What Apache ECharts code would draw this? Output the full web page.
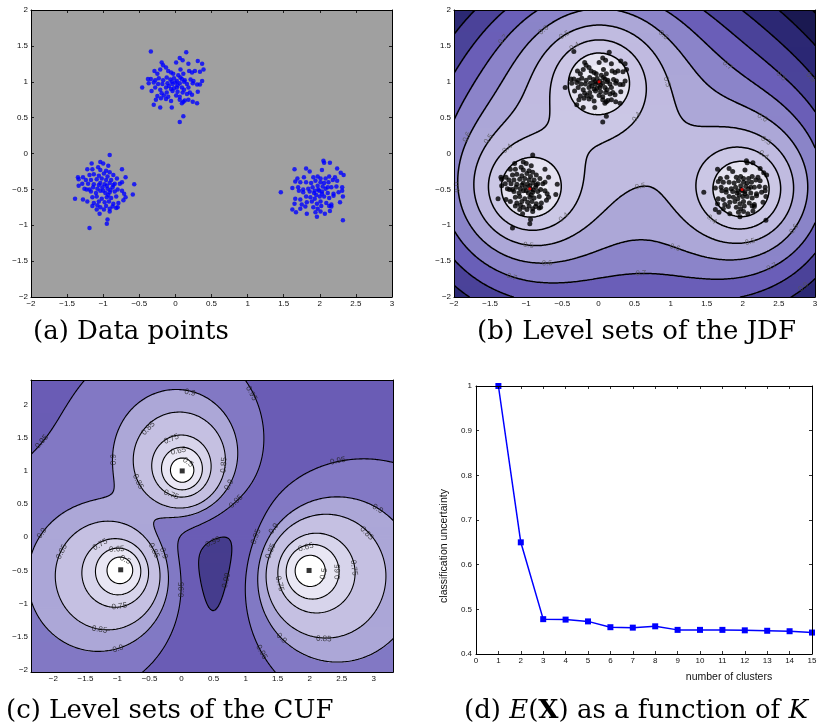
<!DOCTYPE html>
<html><head><meta charset="utf-8">
<script src="https://cdn.jsdelivr.net/npm/echarts@6/dist/echarts.min.js"></script>
<style>html,body{margin:0;padding:0;background:#fff}#c{width:824px;height:727px}</style>
</head><body><div id="c"></div>
<script>
// ---------------- data ----------------
const pointsTop = [[-0.34,1.42],[0.15,1.41],[0.06,1.33],[0.10,1.30],[0.01,1.27],[0.31,1.29],[0.37,1.25],[-0.19,1.27],[-0.17,1.23],[-0.13,1.20],[0.18,1.25],[0.39,1.17],[-0.29,1.15],[-0.21,1.17],[-0.10,1.15],[0.07,1.17],[0.19,1.15],[0.27,1.15],[0.34,1.14],[-0.25,1.11],[-0.06,1.13],[-0.03,1.11],[0.04,1.09],[0.11,1.11],[0.23,1.13],[-0.38,1.04],[-0.34,1.04],[-0.28,1.02],[-0.23,1.05],[-0.17,1.02],[-0.12,1.06],[-0.07,1.03],[-0.02,1.05],[0.02,1.01],[0.09,1.04],[0.13,1.02],[0.21,1.03],[0.25,1.01],[0.37,1.01],[-0.37,0.98],[-0.30,0.99],[-0.24,0.97],[-0.18,0.97],[-0.11,0.98],[-0.04,0.97],[0.00,0.99],[0.06,0.98],[0.16,0.97],[0.24,0.98],[0.30,0.96],[0.34,0.96],[-0.46,0.92],[-0.28,0.92],[-0.21,0.89],[-0.13,0.92],[-0.06,0.90],[0.02,0.92],[0.09,0.92],[0.12,0.89],[0.18,0.92],[-0.33,0.87],[-0.19,0.84],[-0.12,0.85],[-0.04,0.87],[0.03,0.86],[0.10,0.85],[0.20,0.85],[0.31,0.86],[-0.25,0.80],[-0.16,0.81],[-0.10,0.79],[0.01,0.81],[0.06,0.79],[0.16,0.83],[0.23,0.82],[-0.27,0.75],[-0.20,0.77],[-0.13,0.76],[-0.06,0.73],[0.06,0.75],[0.13,0.74],[0.18,0.75],[0.24,0.72],[0.11,0.72],[0.30,0.70],[0.09,0.70],[-0.30,0.68],[-0.21,0.64],[-0.05,0.64],[0.11,0.52],[0.06,0.44],[-0.05,1.00],[0.03,0.95],[-0.09,0.94],[0.07,1.06],[-0.02,0.91],[0.12,1.00]];
const pointsLeft = [[-0.91,-0.02],[-1.04,-0.12],[-1.16,-0.14],[-1.00,-0.14],[-0.93,-0.17],[-1.07,-0.19],[-1.22,-0.22],[-1.15,-0.22],[-1.04,-0.23],[-0.96,-0.24],[-0.91,-0.26],[-0.74,-0.22],[-1.35,-0.33],[-1.28,-0.33],[-1.19,-0.30],[-1.13,-0.29],[-1.06,-0.31],[-0.99,-0.28],[-0.94,-0.32],[-0.86,-0.30],[-1.34,-0.36],[-1.24,-0.37],[-1.17,-0.37],[-1.09,-0.36],[-1.02,-0.35],[-0.96,-0.37],[-0.89,-0.37],[-0.81,-0.35],[-0.69,-0.33],[-1.29,-0.42],[-1.21,-0.42],[-1.13,-0.43],[-1.04,-0.41],[-0.98,-0.43],[-0.91,-0.41],[-0.84,-0.42],[-0.77,-0.42],[-0.74,-0.40],[-0.57,-0.43],[-1.34,-0.45],[-1.26,-0.49],[-1.19,-0.50],[-1.14,-0.47],[-1.08,-0.49],[-1.01,-0.47],[-0.94,-0.49],[-0.87,-0.47],[-0.80,-0.50],[-0.74,-0.52],[-1.23,-0.50],[-1.17,-0.53],[-1.10,-0.55],[-1.04,-0.52],[-0.97,-0.55],[-0.91,-0.54],[-0.84,-0.53],[-0.71,-0.56],[-0.59,-0.57],[-1.39,-0.63],[-1.28,-0.64],[-1.15,-0.61],[-1.09,-0.60],[-1.02,-0.63],[-0.95,-0.61],[-0.89,-0.62],[-0.82,-0.60],[-0.69,-0.61],[-1.22,-0.67],[-1.13,-0.69],[-1.06,-0.67],[-0.98,-0.68],[-0.92,-0.67],[-0.86,-0.70],[-0.79,-0.69],[-0.72,-0.65],[-1.15,-0.73],[-1.08,-0.72],[-1.04,-0.75],[-0.96,-0.73],[-0.87,-0.74],[-0.80,-0.75],[-1.09,-0.78],[-0.99,-0.78],[-0.91,-0.77],[-0.82,-0.76],[-1.05,-0.84],[-0.91,-0.81],[-0.94,-0.92],[-0.95,-0.98],[-1.19,-1.04],[-0.95,-0.45],[-0.90,-0.51],[-1.00,-0.52],[-0.93,-0.58],[-1.06,-0.44],[-0.86,-0.44]];
const pointsRight = [[2.05,-0.10],[2.14,-0.13],[2.06,-0.13],[1.65,-0.22],[1.81,-0.21],[1.86,-0.25],[2.03,-0.23],[2.24,-0.21],[2.29,-0.27],[2.33,-0.30],[1.69,-0.35],[1.78,-0.33],[1.91,-0.33],[1.97,-0.32],[2.01,-0.35],[2.08,-0.35],[2.13,-0.32],[2.21,-0.33],[1.66,-0.39],[1.73,-0.40],[1.81,-0.40],[1.88,-0.41],[1.94,-0.38],[2.01,-0.40],[2.06,-0.41],[2.12,-0.40],[2.18,-0.37],[2.24,-0.38],[1.62,-0.48],[1.70,-0.47],[1.77,-0.50],[1.84,-0.49],[1.90,-0.47],[1.97,-0.45],[2.04,-0.46],[2.11,-0.47],[2.16,-0.47],[2.23,-0.46],[2.31,-0.47],[1.46,-0.54],[1.71,-0.52],[1.77,-0.54],[1.86,-0.53],[1.92,-0.55],[1.99,-0.52],[2.03,-0.53],[2.11,-0.55],[2.19,-0.56],[2.26,-0.54],[2.31,-0.52],[1.66,-0.63],[1.73,-0.64],[1.81,-0.60],[1.87,-0.61],[1.93,-0.63],[2.00,-0.60],[2.06,-0.60],[2.13,-0.62],[2.19,-0.59],[2.32,-0.60],[1.65,-0.70],[1.75,-0.71],[1.82,-0.68],[1.89,-0.67],[1.96,-0.70],[2.01,-0.67],[2.09,-0.69],[2.16,-0.71],[2.28,-0.68],[1.73,-0.77],[1.80,-0.74],[1.91,-0.75],[1.97,-0.77],[2.02,-0.73],[2.13,-0.73],[2.16,-0.74],[1.62,-0.78],[1.67,-0.82],[1.82,-0.84],[1.94,-0.82],[2.01,-0.81],[2.07,-0.84],[2.14,-0.80],[1.96,-0.88],[2.32,-0.93],[1.98,-0.50],[2.03,-0.56],[1.93,-0.52],[2.08,-0.49],[1.95,-0.58]];
const centers = [[0.01,1.0],[-0.95,-0.49],[1.99,-0.5]];
const jdfLevels = [0.1,0.2,0.3,0.4,0.5,0.6,0.7,0.8,0.9,1.0,1.1];
const jdfLineLevels = [0.3,0.4,0.5,0.6,0.7,0.8,0.9,1.0,1.1];
const cufLevels = [0.5,0.65,0.75,0.85,0.9,0.95,0.99];
const clusterCounts = [1,2,3,4,5,6,7,8,9,10,11,12,13,14,15];
const uncertainty = [1.0,0.65,0.478,0.477,0.473,0.46,0.459,0.462,0.454,0.454,0.454,0.453,0.452,0.451,0.448];
const cTicksX = [-2,-1.5,-1,-0.5,0,0.5,1,1.5,2,2.5,3];
const cTicksY = [-2,-1.5,-1,-0.5,0,0.5,1,1.5,2];
const jdfLabels = [[-1.32,1.59,'0.7'],[-0.76,1.72,'0.6'],[-0.47,1.65,'0.5'],[-0.33,1.49,'0.4'],[0.90,1.65,'0.6'],[1.79,1.23,'0.7'],[2.53,1.08,'0.8'],[2.94,1.06,'0.9'],[0.95,1.0,'0.5'],[0.53,0.51,'0.4'],[2.27,0.50,'0.6'],[2.32,0.18,'0.5'],[2.29,-0.02,'0.4'],[0.58,-0.46,'0.5'],[1.57,-0.92,'0.4'],[2.10,-1.23,'0.5'],[1.06,-1.31,'0.6'],[2.40,-1.58,'0.7'],[2.71,-1.05,'0.6'],[2.84,-1.86,'0.9'],[0.59,-1.67,'0.7'],[-0.71,-1.53,'0.6'],[-0.97,-1.28,'0.5'],[-1.20,-1.72,'0.7'],[-0.48,-0.89,'0.4'],[-1.82,0.23,'0.6'],[-1.52,0.2,'0.5'],[-1.26,0.07,'0.4'],[-1.97,-0.47,'0.6']];
const cufLabels = [[0.13,2.18,'0.9'],[1.09,2.17,'0.95'],[-2.18,1.44,'0.95'],[-1.06,1.17,'0.9'],[-0.52,1.64,'0.85'],[-0.16,1.48,'0.75'],[-0.05,1.30,'0.65'],[0.10,1.13,'0.5'],[0.66,1.09,'0.85'],[0.74,0.79,'0.9'],[0.85,0.54,'0.95'],[-0.68,0.84,'0.85'],[-0.16,0.64,'0.75'],[2.44,1.15,'0.95'],[3.06,0.43,'0.9'],[2.89,0.06,'0.85'],[1.44,0.13,'0.9'],[1.16,0.01,'0.95'],[1.39,-0.21,'0.85'],[1.94,-0.15,'0.65'],[2.22,-0.55,'0.5'],[2.44,-0.52,'0.65'],[2.69,-0.46,'0.75'],[1.53,-0.70,'0.75'],[1.56,-1.52,'0.9'],[2.22,-1.53,'0.85'],[1.25,-1.73,'0.95'],[-2.18,0.06,'0.9'],[-1.87,-0.22,'0.85'],[-1.27,-0.11,'0.75'],[-1.01,-0.18,'0.65'],[-0.88,-0.34,'0.5'],[-0.43,-0.2,'0.85'],[-0.28,-0.24,'0.9'],[0,-0.79,'0.95'],[-0.97,-1.04,'0.75'],[-1.28,-1.39,'0.85'],[-0.99,-1.68,'0.9'],[0.49,-0.07,'0.99'],[0.70,-0.65,'0.99']];

// ---------------- styles ----------------
const jdfColors = ['#fafafd','#efeef7','#e4e2f0','#cbc7e5','#c0bbe0','#aca7d7','#8b84c9','#6a5fb8','#4b4399','#2c2874','#1b1952','#121236'];
const cufColors = ['#ffffff','#e9e7f4','#d7d4eb','#c5c0e2','#aca7d7','#8279c4','#6a5db5','#463d8d'];
const extB = [-2,3,-2,2];
const extC = [-2.35,3.30,-2.03,2.37];

// ---------------- fields ----------------
function jdf(x,y){let s=0;for(const c of centers){const d=Math.max(Math.hypot(x-c[0],y-c[1]),1e-9);s+=1/d;}return 1/s;}
function cuf(x,y){let s=0,pr=1;for(const c of centers){const inv=1/Math.max(Math.hypot(x-c[0],y-c[1]),1e-9);s+=inv;pr*=inv;}const K=centers.length;return K*Math.pow(pr/Math.pow(s,K),1/K);}
function bandOf(v,levels){let b=0;while(b<levels.length&&v>=levels[b])b++;return b;}
function buildFill(f,ext,nx,ny,levels){
  const [x0,x1,y0,y1]=ext,dx=(x1-x0)/nx,dy=(y1-y0)/ny,out=[];
  for(let j=0;j<ny;j++){const yc=y0+(j+0.5)*dy;let start=0,cur=bandOf(f(x0+0.5*dx,yc),levels);
    for(let i=1;i<=nx;i++){const b=i<nx?bandOf(f(x0+(i+0.5)*dx,yc),levels):-1;
      if(b!==cur){out.push([x0+start*dx,x0+i*dx,y0+j*dy,y0+(j+1)*dy,cur]);start=i;cur=b;}}}
  return out;
}
function buildContours(f,ext,nx,ny,levels){
  const [x0,x1,y0,y1]=ext,dx=(x1-x0)/nx,dy=(y1-y0)/ny;
  const v=[];for(let j=0;j<=ny;j++){const r=[];for(let i=0;i<=nx;i++)r.push(f(x0+i*dx,y0+j*dy));v.push(r);}
  return levels.map(L=>{
    const segs=[];
    const hx=(i,j)=>{const t=(L-v[j][i])/(v[j][i+1]-v[j][i]);return [x0+(i+t)*dx,y0+j*dy];};
    const vy=(i,j)=>{const t=(L-v[j][i])/(v[j+1][i]-v[j][i]);return [x0+i*dx,y0+(j+t)*dy];};
    for(let j=0;j<ny;j++)for(let i=0;i<nx;i++){
      const a=v[j][i]>=L,b=v[j][i+1]>=L,c=v[j+1][i+1]>=L,d=v[j+1][i]>=L;
      const e=[];
      if(a!==b)e[0]=hx(i,j); if(b!==c)e[1]=vy(i+1,j); if(d!==c)e[2]=hx(i,j+1); if(a!==d)e[3]=vy(i,j);
      const ks=[0,1,2,3].filter(k=>e[k]);
      if(ks.length===2)segs.push([e[ks[0]][0],e[ks[0]][1],e[ks[1]][0],e[ks[1]][1]]);
      else if(ks.length===4){const m=f(x0+(i+0.5)*dx,y0+(j+0.5)*dy)>=L;
        if(m===a){segs.push([...e[0],...e[1]]);segs.push([...e[2],...e[3]]);}
        else{segs.push([...e[0],...e[3]]);segs.push([...e[1],...e[2]]);}}
    }
    return segs;
  });
}
function labelAngle(f,x,y,sx,sy){const h=1e-3;const fx=(f(x+h,y)-f(x-h,y))/(2*h),fy=(f(x,y+h)-f(x,y-h))/(2*h);
  let a=Math.atan2(fx*sy,-fy*sx)*180/Math.PI;if(a>90)a-=180;if(a<-90)a+=180;return a;}

const fillB=buildFill(jdf,extB,361,287,jdfLevels);
const fillC=buildFill(cuf,extC,362,292,cufLevels);
const segB=buildContours(jdf,extB,220,176,jdfLineLevels);
const segC=buildContours(cuf,extC,230,180,cufLevels);

function fillRender(colors){return function(params,api){
  const a=api.coord([api.value(0),api.value(3)]),b=api.coord([api.value(1),api.value(2)]);
  return {type:'rect',silent:true,shape:{x:a[0],y:a[1],width:b[0]-a[0]+0.6,height:b[1]-a[1]+0.6},style:{fill:colors[api.value(4)]}};};}
function lineRender(segs,w){return function(params,api){
  const s=segs[api.value(0)];let d='';
  for(const g of s){const p=api.coord([g[0],g[1]]),q=api.coord([g[2],g[3]]);d+='M'+p[0].toFixed(2)+' '+p[1].toFixed(2)+'L'+q[0].toFixed(2)+' '+q[1].toFixed(2);}
  return {type:'path',silent:true,shape:{pathData:d},style:{stroke:'#000',lineWidth:w,fill:null,lineCap:'round'}};};}

const fmt=v=>(Math.round(v*1000)/1000).toString().replace('-','\u2212');
const tickFont={fontSize:8,color:'#111',fontFamily:'Liberation Sans, Arial, sans-serif'};
function xAx(gi,min,max,opt){
  const base={gridIndex:gi,type:'value',min,max,z:10,splitLine:{show:false},
    axisLine:{show:true,onZero:false,lineStyle:{color:'#000',width:1}},
    axisTick:{show:opt.ticks,inside:true,length:3,lineStyle:{color:'#000',width:0.8}},
    axisLabel:Object.assign({show:true,margin:3,formatter:fmt,showMinLabel:true,showMaxLabel:true},tickFont)};
  if(opt.interval!=null)base.interval=opt.interval;
  if(opt.custom){base.axisLabel.customValues=opt.custom;base.axisTick.customValues=opt.custom;}
  const top=JSON.parse(JSON.stringify(base));top.position='top';top.axisLabel={show:false};
  if(opt.interval!=null)top.interval=opt.interval;
  if(opt.custom)top.axisTick.customValues=opt.custom;
  base.position='bottom';
  return [base,top];
}
function yAx(gi,min,max,opt){
  const [l,r]=xAx(gi,min,max,opt);l.position='left';r.position='right';l.axisLabel.margin=opt.margin||3;
  l.axisLabel.formatter=fmt;
  return [l,r];
}
const xA=[...xAx(0,-2,3,{interval:0.5,ticks:true}),...xAx(1,-2,3,{interval:0.5,ticks:false}),
  ...xAx(2,extC[0],extC[1],{custom:cTicksX,ticks:false}),...xAx(3,0,15,{interval:1,ticks:true})];
const yA=[...yAx(0,-2,2,{interval:0.5,ticks:true,margin:3}),...yAx(1,-2,2,{interval:0.5,ticks:false,margin:3}),
  ...yAx(2,extC[2],extC[3],{custom:cTicksY,ticks:false,margin:3}),...yAx(3,0.4,1,{interval:0.1,ticks:true,margin:4})];
xA[0].axisLabel.formatter=fmt;

const sB=[361/5,287/4],sC=[362/5.65,292/4.4];
function labelSeries(list,f,s,xi,yi,color,size){
  return {type:'scatter',xAxisIndex:xi,yAxisIndex:yi,z:6,symbolSize:1,itemStyle:{color:'rgba(0,0,0,0)'},silent:true,
    data:list.map(l=>({value:[l[0],l[1]],name:l[2],label:{rotate:labelAngle(f,l[0],l[1],s[0],s[1])}})),
    label:{show:true,position:'inside',formatter:p=>p.name,color,fontSize:size,fontFamily:'Liberation Sans, Arial, sans-serif'}};
}
const allPts=[...pointsTop,...pointsLeft,...pointsRight];
const cap={fontFamily:'DejaVu Serif, serif',fontSize:26,fill:'#000'};

const option={
  animation:false,
  grid:[
    {left:31,top:10,width:361,height:287,show:true,backgroundColor:'#a0a0a0',borderWidth:0,outerBoundsMode:'none'},
    {left:454,top:10,width:361,height:287,outerBoundsMode:'none'},
    {left:31,top:380,width:362,height:292,outerBoundsMode:'none'},
    {left:476,top:386,width:336,height:268,outerBoundsMode:'none'}
  ],
  xAxis:xA,yAxis:yA,
  series:[
    {type:'scatter',xAxisIndex:0,yAxisIndex:0,data:allPts,symbolSize:4.5,itemStyle:{color:'#0000ff'},z:3,silent:true},
    {type:'custom',xAxisIndex:2,yAxisIndex:2,data:fillB,encode:{x:[0,1],y:[2,3]},renderItem:fillRender(jdfColors),clip:true,z:1,silent:true},
    {type:'custom',xAxisIndex:2,yAxisIndex:2,data:jdfLineLevels.map((l,i)=>[i]),encode:{x:0,y:0},renderItem:lineRender(segB,1.5),clip:true,z:2,silent:true},
    {type:'scatter',xAxisIndex:2,yAxisIndex:2,data:allPts,symbolSize:5,itemStyle:{color:'#000'},z:4,silent:true},
    {type:'scatter',xAxisIndex:2,yAxisIndex:2,data:centers,symbolSize:3,itemStyle:{color:'#ff0000'},z:5,silent:true},
    labelSeries(jdfLabels,jdf,sB,2,2,'#555',7.5),
    {type:'custom',xAxisIndex:4,yAxisIndex:4,data:fillC,encode:{x:[0,1],y:[2,3]},renderItem:fillRender(cufColors),clip:true,z:1,silent:true},
    {type:'custom',xAxisIndex:4,yAxisIndex:4,data:cufLevels.map((l,i)=>[i]),encode:{x:0,y:0},renderItem:lineRender(segC,1.1),clip:true,z:2,silent:true},
    {type:'scatter',xAxisIndex:4,yAxisIndex:4,data:centers,symbol:'rect',symbolSize:5,itemStyle:{color:'#000'},z:4,silent:true},
    labelSeries(cufLabels,cuf,sC,4,4,'#222',8),
    {type:'line',xAxisIndex:6,yAxisIndex:6,data:clusterCounts.map((k,i)=>[k,uncertainty[i]]),symbol:'rect',symbolSize:6,
      lineStyle:{color:'#0000ff',width:1.5},itemStyle:{color:'#0000ff'},z:3,silent:true}
  ],
  graphic:[
    {type:'text',x:33,y:332,style:Object.assign({text:'(a) Data points',verticalAlign:'middle'},cap)},
    {type:'text',x:477,y:332,style:Object.assign({text:'(b) Level sets of the JDF',verticalAlign:'middle'},cap)},
    {type:'text',x:6,y:711,style:Object.assign({text:'(c) Level sets of the CUF',verticalAlign:'middle'},cap)},
    {type:'text',x:464,y:711,style:{text:'(d) {i|E}({b|X}) as a function of {i|K}',verticalAlign:'middle',fontFamily:'DejaVu Serif, serif',fontSize:26,fill:'#000',
      rich:{i:{fontFamily:'DejaVu Serif, serif',fontSize:26,fontStyle:'italic'},b:{fontFamily:'DejaVu Serif, serif',fontSize:26,fontWeight:'bold'}}}},
    {type:'text',x:729,y:677,style:{text:'number of clusters',align:'center',verticalAlign:'middle',fontSize:10.5,fontFamily:'Liberation Sans, Arial, sans-serif',fill:'#111'}},
    {type:'text',x:444,y:546,rotation:Math.PI/2,style:{text:'classification uncertainty',align:'center',verticalAlign:'middle',fontSize:10.5,fontFamily:'Liberation Sans, Arial, sans-serif',fill:'#111'}}
  ]
};
const chart=echarts.init(document.getElementById('c'),null,{renderer:'canvas'});
chart.setOption(option);
</script></body></html>
